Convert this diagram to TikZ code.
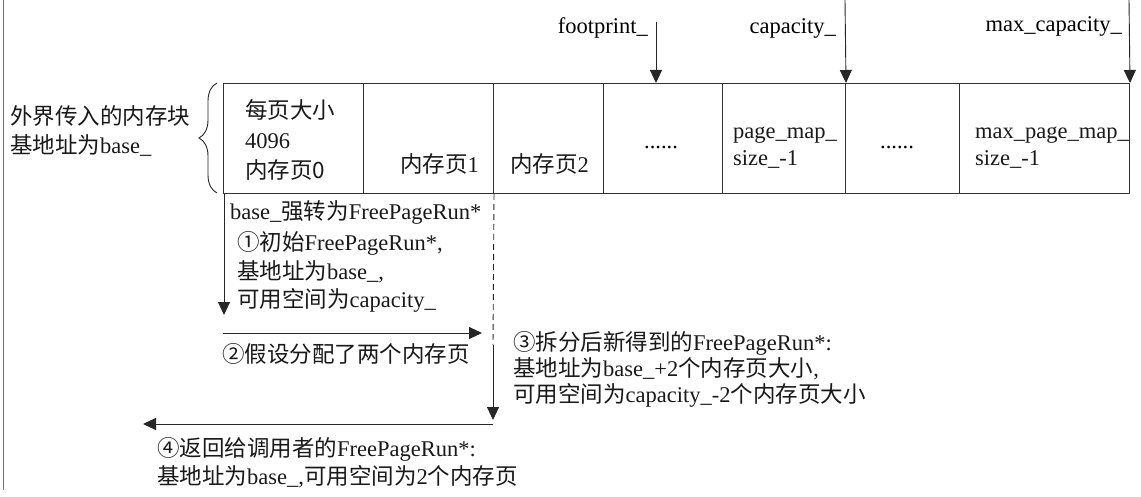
\documentclass[tikz,border=0pt]{standalone}
\usepackage{fontspec}
\setmainfont{Liberation Serif}
\newfontfamily\cjkf{Noto Sans CJK SC}
\newcommand\zh[1]{{\cjkf #1}}
\newcommand\fz[1]{\fontsize{22.5}{#1}\selectfont}
\usetikzlibrary{arrows.meta,decorations.pathreplacing}
\begin{document}
\begin{tikzpicture}[x=1pt,y=-1pt,
  font=\fz{28},
  cell/.style={draw=black!80, line width=1pt, minimum height=110pt, inner sep=0pt, anchor=north west},
  txt/.style={inner sep=0pt, align=left, anchor=west, text=black!90},
  arr/.style={-{Triangle[length=13pt,width=12pt]}, line width=0.9pt, draw=black!85},
  plain/.style={line width=0.9pt, draw=black!85}]
\useasboundingbox (0,0) rectangle (1141,497);
\draw[line width=1pt, black!55] (3,0) -- (3,490);
% cells
\node[cell, minimum width=140pt] (c0) at (223,83) {};
\node[cell, minimum width=130pt] (c1) at (363,83) {};
\node[cell, minimum width=110pt] (c2) at (493,83) {};
\node[cell, minimum width=119pt] (c3) at (603,83) {};
\node[cell, minimum width=123pt] (c4) at (722,83) {};
\node[cell, minimum width=114pt] (c5) at (845,83) {};
\node[cell, minimum width=170pt] (c6) at (959,83) {};
% cell texts
\node[txt, font=\fz{30}] (t0) at (245,140) {\zh{每页大小}\\4096\\\zh{内存页0}};
\node[txt] (t1) at (400,164) {\zh{内存页}1};
\node[txt] (t2) at (510,164) {\zh{内存页}2};
\node[inner sep=0pt, anchor=base] (t3) at (661,149) {......};
\node[txt, font=\fz{27}] (t4) at (733,148) {page\_map\_\\size\_-1};
\node[inner sep=0pt, anchor=base] (t5) at (897,149) {......};
\node[txt, font=\fz{27}] (t6) at (975,148) {max\_page\_map\_\\size\_-1};
% left label and brace
\node[txt, font=\fz{29}] (lbl) at (10,131) {\zh{外界传入的内存块}\\\zh{基地址为}base\_};
\draw[line width=0.9pt, black!85, decorate,
  decoration={brace, amplitude=18pt}] (217,193) -- (217,83);
% top pointers
\node[inner sep=0pt, anchor=base east] (lf) at (648,34) {footprint\_};
\node[inner sep=0pt, anchor=base east] (lc) at (836,34) {capacity\_};
\node[inner sep=0pt, anchor=base east] (lm) at (1122,32) {max\_capacity\_};
\coordinate (pf) at (656,22);
\coordinate (pc) at (845,0);
\coordinate (pm) at (1129,0);
\draw[arr] (pf) -- (656,83);
\draw[arr] (pc) -- (c4.north east);
\draw[arr] (pm) -- (c6.north east);
% step texts
\node[txt] (s0) at (230,212) {base\_\zh{强转为}FreePageRun*};
\node[txt, font=\fz{28.5}] (s1) at (237,272) {\zh{①初始}FreePageRun*,\\\zh{基地址为}base\_,\\\zh{可用空间为}capacity\_};
\node[txt] (s2) at (222,354) {\zh{②假设分配了两个内存页}};
\node[txt, font=\fz{26}] (s3) at (513,369) {\zh{③拆分后新得到的}FreePageRun*:\\\zh{基地址为}base\_+2\zh{个内存页大小}{,}\\\zh{可用空间为}capacity\_-2\zh{个内存页大小}};
\node[txt, font=\fz{28}] (s4) at (157,463) {\zh{④返回给调用者的}FreePageRun*:\\\zh{基地址为}base\_,\zh{可用空间为}2\zh{个内存页}};
% flow arrows
\coordinate (d1) at (224,315);
\draw[arr] (c0.south west) ++(1,0) -- (d1);
\coordinate (h2a) at (223,333);
\coordinate (h2b) at (482,333);
\draw[arr] (h2a) -- (h2b);
\coordinate (dm) at (493,345);
\coordinate (d3) at (493,420);
\draw[plain, dashed, dash pattern=on 6pt off 4pt] (c1.south east) -- (dm);
\draw[arr] (dm) -- (d3);
\coordinate (h4a) at (493,424);
\coordinate (h4b) at (143,424);
\draw[arr] (h4a) -- (h4b);
\end{tikzpicture}
\end{document}
